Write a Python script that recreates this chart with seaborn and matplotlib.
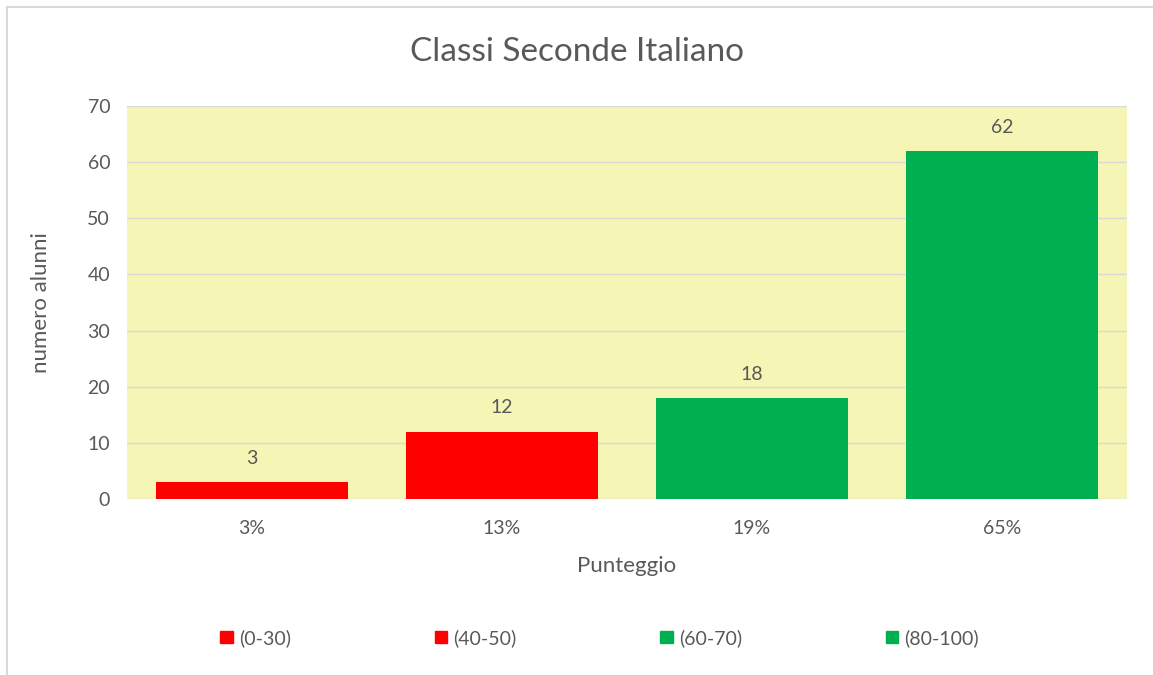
import matplotlib
matplotlib.use("Agg")
import matplotlib.pyplot as plt
import seaborn as sns
import pandas as pd
from matplotlib.patches import Rectangle, Patch

categories = ["3%", "13%", "19%", "65%"]
values = [3, 12, 18, 62]
ranges = ["(0-30)", "(40-50)", "(60-70)", "(80-100)"]
colors = ["#FF0000", "#FF0000", "#00B050", "#00B050"]

sns.set_theme(style="white")
plt.rcParams['font.family'] = ['Lato', 'DejaVu Sans']
txt = "#595959"

df = pd.DataFrame({"cat": categories, "val": values, "range": ranges})

fig = plt.figure(figsize=(11.53, 6.75), dpi=100)
ax = fig.add_axes([0.110, 0.2607, 0.8675, 0.5823])
ax.set_facecolor("#F5F5B5")

sns.barplot(data=df, x="cat", y="val", hue="range", palette=colors,
            dodge=False, width=0.765, ax=ax, legend=False, saturation=1,
            linewidth=0)

ax.set_ylim(0, 70)
ax.set_yticks(range(0, 71, 10))
ax.yaxis.grid(True, color="#D9D9D9", linewidth=1)
ax.set_axisbelow(True)
for s in ax.spines.values():
    s.set_visible(False)
ax.tick_params(axis="both", length=0, labelsize=14, colors=txt, pad=12)
ax.tick_params(axis="x", pad=15)

for i, v in enumerate(values):
    ax.annotate(str(v), (i, v), xytext=(0, 11), textcoords="offset points",
                ha="center", va="bottom", fontsize=14, color=txt)

ax.set_xlabel("Punteggio", fontsize=16, color=txt, labelpad=14)
ax.set_ylabel("numero alunni", fontsize=16, color=txt, labelpad=26)
fig.suptitle("Classi Seconde Italiano", fontsize=24, color=txt, y=0.945)

handles = [Patch(facecolor=c, edgecolor=c) for c in colors]
fig.legend(handles, ranges, loc="center", bbox_to_anchor=(0.52, 0.055), ncol=4,
           frameon=False, fontsize=14, labelcolor=txt, handlelength=0.65,
           handleheight=0.65, handletextpad=0.3, columnspacing=7.4)

fig.patches.append(Rectangle((7 / 1153, -0.1), 1.5, 1 - 7 / 675 + 0.1,
                             transform=fig.transFigure, fill=False,
                             edgecolor="#D9D9D9", linewidth=1.5))

fig.savefig("out.png", dpi=100, facecolor="white")
